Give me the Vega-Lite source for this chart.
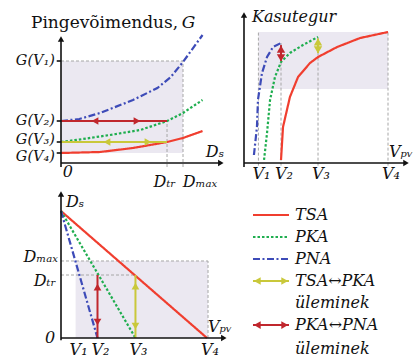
{
"$schema":"https://vega.github.io/schema/vega-lite/v6.json",
"padding":0,
"spacing":0,
"config":{"view":{"stroke":null},"text":{"font":"DejaVu Serif","fontSize":16,"fontStyle":"italic","color":"#111111"}},
"vconcat":[
{"hconcat":[
{"width":232,"height":186,
"encoding":{
"x":{"field":"x","type":"quantitative","scale":{"domain":[-0.5,1.4016],"nice":false,"zero":false},"axis":null},
"y":{"field":"y","type":"quantitative","scale":{"domain":[-2.3,16.3],"nice":false,"zero":false},"axis":null}},
"layer":[
{"data":{"values":[{"s":"area","x":0,"x2":1,"y":1.0,"y2":10.2}]},"mark":{"type":"rect"},
"encoding":{"x2":{"field":"x2"},"y2":{"field":"y2"},"color":{"field":"s","type":"nominal","legend":null,"scale":{"domain":["TSA","PKA","PNA","TSA↔PKA","PKA↔PNA","axis","grid","area"],"range":["#f03e2f","#1fae4f","#3d4bb8","#c9c83a","#c0272d","#111111","#a6a6a6","#ebe8f1"]}}}},
{"data":{"values":[{"s":"grid","x":0,"x2":1,"y":10.2,"y2":10.2},{"s":"grid","x":1,"x2":1,"y":-0.4,"y2":10.2},{"s":"grid","x":0.869,"x2":0.869,"y":-0.4,"y2":4.2}]},
"mark":{"type":"rule","strokeDash":[3,2],"strokeWidth":1},
"encoding":{"x2":{"field":"x2"},"y2":{"field":"y2"},"color":{"field":"s","type":"nominal","legend":null,"scale":{"domain":["TSA","PKA","PNA","TSA↔PKA","PKA↔PNA","axis","grid","area"],"range":["#f03e2f","#1fae4f","#3d4bb8","#c9c83a","#c0272d","#111111","#a6a6a6","#ebe8f1"]}}}},
{"data":{"values":[
{"s":"PNA","x":0,"y":4.2},{"s":"PNA","x":0.15,"y":4.4},{"s":"PNA","x":0.32,"y":5.0},{"s":"PNA","x":0.59,"y":6.3},{"s":"PNA","x":0.79,"y":7.5},{"s":"PNA","x":0.9,"y":8.6},{"s":"PNA","x":1.0,"y":10.1},{"s":"PNA","x":1.16,"y":12.8},
{"s":"PKA","x":0,"y":2.1},{"s":"PKA","x":0.18,"y":2.4},{"s":"PKA","x":0.4,"y":2.8},{"s":"PKA","x":0.65,"y":3.3},{"s":"PKA","x":0.87,"y":4.2},{"s":"PKA","x":1.0,"y":5.0},{"s":"PKA","x":1.16,"y":6.3},
{"s":"TSA","x":0,"y":1.0},{"s":"TSA","x":0.32,"y":1.1},{"s":"TSA","x":0.59,"y":1.5},{"s":"TSA","x":0.87,"y":2.1},{"s":"TSA","x":1.0,"y":2.5},{"s":"TSA","x":1.16,"y":3.2}]},
"mark":{"type":"line","strokeWidth":2.2},
"encoding":{"color":{"field":"s","type":"nominal","legend":null,"scale":{"domain":["TSA","PKA","PNA","TSA↔PKA","PKA↔PNA","axis","grid","area"],"range":["#f03e2f","#1fae4f","#3d4bb8","#c9c83a","#c0272d","#111111","#a6a6a6","#ebe8f1"]}},
"strokeDash":{"field":"s","type":"nominal","legend":null,"scale":{"domain":["TSA","PKA","PNA"],"range":[[1,0],[2.5,2],[7,2.5,2,2.5]]}}}},
{"data":{"values":[{"s":"PKA↔PNA","x":0,"x2":0.869,"y":4.2,"y2":4.2},{"s":"TSA↔PKA","x":0,"x2":0.869,"y":2.1,"y2":2.1}]},
"mark":{"type":"rule","strokeWidth":2},
"encoding":{"x2":{"field":"x2"},"y2":{"field":"y2"},"color":{"field":"s","type":"nominal","legend":null,"scale":{"domain":["TSA","PKA","PNA","TSA↔PKA","PKA↔PNA","axis","grid","area"],"range":["#f03e2f","#1fae4f","#3d4bb8","#c9c83a","#c0272d","#111111","#a6a6a6","#ebe8f1"]}}}},
{"data":{"values":[{"s":"axis","x":0,"x2":0,"y":-0.4,"y2":12.3},{"s":"axis","x":0,"x2":1.3,"y":0,"y2":0},{"s":"axis","x":-0.035,"x2":0,"y":10.2,"y2":10.2},{"s":"axis","x":-0.035,"x2":0,"y":4.2,"y2":4.2},{"s":"axis","x":-0.035,"x2":0,"y":2.1,"y2":2.1},{"s":"axis","x":-0.035,"x2":0,"y":1.0,"y2":1.0}]},
"mark":{"type":"rule","strokeWidth":1.6},
"encoding":{"x2":{"field":"x2"},"y2":{"field":"y2"},"color":{"field":"s","type":"nominal","legend":null,"scale":{"domain":["TSA","PKA","PNA","TSA↔PKA","PKA↔PNA","axis","grid","area"],"range":["#f03e2f","#1fae4f","#3d4bb8","#c9c83a","#c0272d","#111111","#a6a6a6","#ebe8f1"]}}}},
{"data":{"values":[{"s":"axis","dir":"up","x":0,"y":12.4},{"s":"axis","dir":"right","x":1.31,"y":0}]},
"mark":{"type":"point","filled":true,"opacity":1,"size":40},
"encoding":{"shape":{"field":"dir","type":"nominal","legend":null,"scale":{"domain":["up","down","left","right"],"range":["triangle-up","triangle-down","triangle-left","triangle-right"]}},"color":{"field":"s","type":"nominal","legend":null,"scale":{"domain":["TSA","PKA","PNA","TSA↔PKA","PKA↔PNA","axis","grid","area"],"range":["#f03e2f","#1fae4f","#3d4bb8","#c9c83a","#c0272d","#111111","#a6a6a6","#ebe8f1"]}}}},
{"data":{"values":[{"s":"PKA↔PNA","dir":"left","x":0.279,"y":4.2},{"s":"PKA↔PNA","dir":"right","x":0.623,"y":4.2},{"s":"TSA↔PKA","dir":"left","x":0.377,"y":2.1},{"s":"TSA↔PKA","dir":"right","x":0.713,"y":2.1}]},
"mark":{"type":"point","filled":true,"opacity":1,"size":60},
"encoding":{"shape":{"field":"dir","type":"nominal","legend":null,"scale":{"domain":["up","down","left","right"],"range":["triangle-up","triangle-down","triangle-left","triangle-right"]}},"color":{"field":"s","type":"nominal","legend":null,"scale":{"domain":["TSA","PKA","PNA","TSA↔PKA","PKA↔PNA","axis","grid","area"],"range":["#f03e2f","#1fae4f","#3d4bb8","#c9c83a","#c0272d","#111111","#a6a6a6","#ebe8f1"]}}}},
{"data":{"values":[{"t":"G(V₁)","x":-0.049,"y":10.2},{"t":"G(V₂)","x":-0.049,"y":4.2},{"t":"G(V₃)","x":-0.049,"y":2.3},{"t":"G(V₄)","x":-0.049,"y":0.6}]},
"mark":{"type":"text","align":"right","baseline":"middle","fontSize":14.5},"encoding":{"text":{"field":"t"}}},
{"data":{"values":[{"t":"0","x":0.057,"y":-0.9},{"t":"Dₜᵣ","x":0.85,"y":-1.9},{"t":"Dₘₐₓ","x":1.139,"y":-1.9},{"t":"Dₛ","x":1.262,"y":1.1}]},
"mark":{"type":"text","align":"center","baseline":"middle"},"encoding":{"text":{"field":"t"}}},
{"data":{"values":[{"t":"Pingevõimendus,","x":0.96,"y":13.5}]},
"mark":{"type":"text","align":"right","baseline":"alphabetic","fontStyle":"normal","fontSize":17},"encoding":{"text":{"field":"t"}}},
{"data":{"values":[{"t":"G","x":0.99,"y":13.5}]},
"mark":{"type":"text","align":"left","baseline":"alphabetic","fontSize":17},"encoding":{"text":{"field":"t"}}}
]},
{"width":184,"height":186,
"encoding":{
"x":{"field":"x","type":"quantitative","scale":{"domain":[-0.0833,1.1944],"nice":false,"zero":false},"axis":null},
"y":{"field":"y","type":"quantitative","scale":{"domain":[-17.56,124.43],"nice":false,"zero":false},"axis":null}},
"layer":[
{"data":{"values":[{"s":"area","x":0.1,"x2":1,"y":56.5,"y2":100}]},"mark":{"type":"rect"},
"encoding":{"x2":{"field":"x2"},"y2":{"field":"y2"},"color":{"field":"s","type":"nominal","legend":null,"scale":{"domain":["TSA","PKA","PNA","TSA↔PKA","PKA↔PNA","axis","grid","area"],"range":["#f03e2f","#1fae4f","#3d4bb8","#c9c83a","#c0272d","#111111","#a6a6a6","#ebe8f1"]}}}},
{"data":{"values":[{"s":"grid","x":0.1,"x2":0.1,"y":-2,"y2":100},{"s":"grid","x":0.257,"x2":0.257,"y":-2,"y2":91.6},{"s":"grid","x":0.514,"x2":0.514,"y":-2,"y2":96.2},{"s":"grid","x":1.0,"x2":1.0,"y":-2,"y2":100}]},
"mark":{"type":"rule","strokeDash":[3,2],"strokeWidth":1},
"encoding":{"x2":{"field":"x2"},"y2":{"field":"y2"},"color":{"field":"s","type":"nominal","legend":null,"scale":{"domain":["TSA","PKA","PNA","TSA↔PKA","PKA↔PNA","axis","grid","area"],"range":["#f03e2f","#1fae4f","#3d4bb8","#c9c83a","#c0272d","#111111","#a6a6a6","#ebe8f1"]}}}},
{"data":{"values":[
{"s":"PNA","x":0.069,"y":6.1},{"s":"PNA","x":0.09,"y":27.5},{"s":"PNA","x":0.097,"y":48.1},{"s":"PNA","x":0.125,"y":68.7},{"s":"PNA","x":0.16,"y":80.9},{"s":"PNA","x":0.201,"y":88.5},{"s":"PNA","x":0.257,"y":91.6},
{"s":"PKA","x":0.139,"y":2.3},{"s":"PKA","x":0.16,"y":22.9},{"s":"PKA","x":0.181,"y":48.1},{"s":"PKA","x":0.215,"y":65.6},{"s":"PKA","x":0.257,"y":77.1},{"s":"PKA","x":0.319,"y":84.0},{"s":"PKA","x":0.41,"y":90.1},{"s":"PKA","x":0.514,"y":96.2},
{"s":"TSA","x":0.257,"y":2.3},{"s":"TSA","x":0.271,"y":27.5},{"s":"TSA","x":0.319,"y":50.4},{"s":"TSA","x":0.375,"y":65.6},{"s":"TSA","x":0.458,"y":76.3},{"s":"TSA","x":0.514,"y":80.9},{"s":"TSA","x":0.646,"y":88.5},{"s":"TSA","x":0.806,"y":95.4},{"s":"TSA","x":1.0,"y":100}]},
"mark":{"type":"line","strokeWidth":2.2},
"encoding":{"color":{"field":"s","type":"nominal","legend":null,"scale":{"domain":["TSA","PKA","PNA","TSA↔PKA","PKA↔PNA","axis","grid","area"],"range":["#f03e2f","#1fae4f","#3d4bb8","#c9c83a","#c0272d","#111111","#a6a6a6","#ebe8f1"]}},
"strokeDash":{"field":"s","type":"nominal","legend":null,"scale":{"domain":["TSA","PKA","PNA"],"range":[[1,0],[2.5,2],[7,2.5,2,2.5]]}}}},
{"data":{"values":[{"s":"PKA↔PNA","x":0.257,"x2":0.257,"y":78,"y2":90},{"s":"TSA↔PKA","x":0.514,"x2":0.514,"y":84,"y2":95}]},
"mark":{"type":"rule","strokeWidth":2},
"encoding":{"x2":{"field":"x2"},"y2":{"field":"y2"},"color":{"field":"s","type":"nominal","legend":null,"scale":{"domain":["TSA","PKA","PNA","TSA↔PKA","PKA↔PNA","axis","grid","area"],"range":["#f03e2f","#1fae4f","#3d4bb8","#c9c83a","#c0272d","#111111","#a6a6a6","#ebe8f1"]}}}},
{"data":{"values":[{"s":"PKA↔PNA","dir":"up","x":0.257,"y":87},{"s":"PKA↔PNA","dir":"down","x":0.257,"y":80.2},{"s":"TSA↔PKA","dir":"up","x":0.514,"y":92.4},{"s":"TSA↔PKA","dir":"down","x":0.514,"y":86.3}]},
"mark":{"type":"point","filled":true,"opacity":1,"size":70},
"encoding":{"shape":{"field":"dir","type":"nominal","legend":null,"scale":{"domain":["up","down","left","right"],"range":["triangle-up","triangle-down","triangle-left","triangle-right"]}},"color":{"field":"s","type":"nominal","legend":null,"scale":{"domain":["TSA","PKA","PNA","TSA↔PKA","PKA↔PNA","axis","grid","area"],"range":["#f03e2f","#1fae4f","#3d4bb8","#c9c83a","#c0272d","#111111","#a6a6a6","#ebe8f1"]}}}},
{"data":{"values":[{"s":"axis","x":0,"x2":0,"y":-3,"y2":112},{"s":"axis","x":0,"x2":1.12,"y":0,"y2":0}]},
"mark":{"type":"rule","strokeWidth":1.6},
"encoding":{"x2":{"field":"x2"},"y2":{"field":"y2"},"color":{"field":"s","type":"nominal","legend":null,"scale":{"domain":["TSA","PKA","PNA","TSA↔PKA","PKA↔PNA","axis","grid","area"],"range":["#f03e2f","#1fae4f","#3d4bb8","#c9c83a","#c0272d","#111111","#a6a6a6","#ebe8f1"]}}}},
{"data":{"values":[{"s":"axis","dir":"up","x":0,"y":113},{"s":"axis","dir":"right","x":1.125,"y":0}]},
"mark":{"type":"point","filled":true,"opacity":1,"size":40},
"encoding":{"shape":{"field":"dir","type":"nominal","legend":null,"scale":{"domain":["up","down","left","right"],"range":["triangle-up","triangle-down","triangle-left","triangle-right"]}},"color":{"field":"s","type":"nominal","legend":null,"scale":{"domain":["TSA","PKA","PNA","TSA↔PKA","PKA↔PNA","axis","grid","area"],"range":["#f03e2f","#1fae4f","#3d4bb8","#c9c83a","#c0272d","#111111","#a6a6a6","#ebe8f1"]}}}},
{"data":{"values":[{"t":"Kasutegur","x":0.056,"y":111.5},{"t":"Vₚᵥ","x":1.007,"y":8.4}]},
"mark":{"type":"text","align":"left","baseline":"middle"},"encoding":{"text":{"field":"t"}}},
{"data":{"values":[{"t":"V₁","x":0.1,"y":-8.4},{"t":"V₂","x":0.257,"y":-8.4},{"t":"V₃","x":0.514,"y":-8.4},{"t":"V₄","x":1.0,"y":-8.4}]},
"mark":{"type":"text","align":"center","baseline":"middle","dx":3},"encoding":{"text":{"field":"t"}}}
]}
],"spacing":0,"bounds":"flush"},
{"hconcat":[
{"width":232,"height":171,
"encoding":{
"x":{"field":"x","type":"quantitative","scale":{"domain":[-0.4178,1.1712],"nice":false,"zero":false},"axis":null},
"y":{"field":"y","type":"quantitative","scale":{"domain":[-0.2987,1.922],"nice":false,"zero":false},"axis":null}},
"layer":[
{"data":{"values":[{"s":"area","x":0.1,"x2":1.007,"y":0,"y2":1}]},"mark":{"type":"rect"},
"encoding":{"x2":{"field":"x2"},"y2":{"field":"y2"},"color":{"field":"s","type":"nominal","legend":null,"scale":{"domain":["TSA","PKA","PNA","TSA↔PKA","PKA↔PNA","axis","grid","area"],"range":["#f03e2f","#1fae4f","#3d4bb8","#c9c83a","#c0272d","#111111","#a6a6a6","#ebe8f1"]}}}},
{"data":{"values":[{"s":"grid","x":0,"x2":1.007,"y":1,"y2":1},{"s":"grid","x":1.007,"x2":1.007,"y":0,"y2":1},{"s":"grid","x":0,"x2":0.51,"y":0.818,"y2":0.818}]},
"mark":{"type":"rule","strokeDash":[3,2],"strokeWidth":1},
"encoding":{"x2":{"field":"x2"},"y2":{"field":"y2"},"color":{"field":"s","type":"nominal","legend":null,"scale":{"domain":["TSA","PKA","PNA","TSA↔PKA","PKA↔PNA","axis","grid","area"],"range":["#f03e2f","#1fae4f","#3d4bb8","#c9c83a","#c0272d","#111111","#a6a6a6","#ebe8f1"]}}}},
{"data":{"values":[{"s":"TSA","x":0,"y":1.649},{"s":"TSA","x":1.0,"y":0},{"s":"PKA","x":0,"y":1.649},{"s":"PKA","x":0.51,"y":0},{"s":"PNA","x":0,"y":1.649},{"s":"PNA","x":0.25,"y":0}]},
"mark":{"type":"line","strokeWidth":2.2},
"encoding":{"color":{"field":"s","type":"nominal","legend":null,"scale":{"domain":["TSA","PKA","PNA","TSA↔PKA","PKA↔PNA","axis","grid","area"],"range":["#f03e2f","#1fae4f","#3d4bb8","#c9c83a","#c0272d","#111111","#a6a6a6","#ebe8f1"]}},
"strokeDash":{"field":"s","type":"nominal","legend":null,"scale":{"domain":["TSA","PKA","PNA"],"range":[[1,0],[2.5,2],[7,2.5,2,2.5]]}}}},
{"data":{"values":[{"s":"PKA↔PNA","x":0.25,"x2":0.25,"y":0,"y2":0.818},{"s":"TSA↔PKA","x":0.51,"x2":0.51,"y":0,"y2":0.818}]},
"mark":{"type":"rule","strokeWidth":2},
"encoding":{"x2":{"field":"x2"},"y2":{"field":"y2"},"color":{"field":"s","type":"nominal","legend":null,"scale":{"domain":["TSA","PKA","PNA","TSA↔PKA","PKA↔PNA","axis","grid","area"],"range":["#f03e2f","#1fae4f","#3d4bb8","#c9c83a","#c0272d","#111111","#a6a6a6","#ebe8f1"]}}}},
{"data":{"values":[{"s":"PKA↔PNA","dir":"up","x":0.25,"y":0.662},{"s":"PKA↔PNA","dir":"down","x":0.25,"y":0.208},{"s":"TSA↔PKA","dir":"up","x":0.51,"y":0.675},{"s":"TSA↔PKA","dir":"down","x":0.51,"y":0.156}]},
"mark":{"type":"point","filled":true,"opacity":1,"size":60},
"encoding":{"shape":{"field":"dir","type":"nominal","legend":null,"scale":{"domain":["up","down","left","right"],"range":["triangle-up","triangle-down","triangle-left","triangle-right"]}},"color":{"field":"s","type":"nominal","legend":null,"scale":{"domain":["TSA","PKA","PNA","TSA↔PKA","PKA↔PNA","axis","grid","area"],"range":["#f03e2f","#1fae4f","#3d4bb8","#c9c83a","#c0272d","#111111","#a6a6a6","#ebe8f1"]}}}},
{"data":{"values":[{"s":"axis","x":0,"x2":0,"y":-0.03,"y2":1.86},{"s":"axis","x":0,"x2":1.11,"y":0,"y2":0}]},
"mark":{"type":"rule","strokeWidth":1.6},
"encoding":{"x2":{"field":"x2"},"y2":{"field":"y2"},"color":{"field":"s","type":"nominal","legend":null,"scale":{"domain":["TSA","PKA","PNA","TSA↔PKA","PKA↔PNA","axis","grid","area"],"range":["#f03e2f","#1fae4f","#3d4bb8","#c9c83a","#c0272d","#111111","#a6a6a6","#ebe8f1"]}}}},
{"data":{"values":[{"s":"axis","dir":"up","x":0,"y":1.87},{"s":"axis","dir":"right","x":1.115,"y":0}]},
"mark":{"type":"point","filled":true,"opacity":1,"size":40},
"encoding":{"shape":{"field":"dir","type":"nominal","legend":null,"scale":{"domain":["up","down","left","right"],"range":["triangle-up","triangle-down","triangle-left","triangle-right"]}},"color":{"field":"s","type":"nominal","legend":null,"scale":{"domain":["TSA","PKA","PNA","TSA↔PKA","PKA↔PNA","axis","grid","area"],"range":["#f03e2f","#1fae4f","#3d4bb8","#c9c83a","#c0272d","#111111","#a6a6a6","#ebe8f1"]}}}},
{"data":{"values":[{"t":"Dₛ","x":0.034,"y":1.766},{"t":"Vₚᵥ","x":1.007,"y":0.143}]},
"mark":{"type":"text","align":"left","baseline":"middle"},"encoding":{"text":{"field":"t"}}},
{"data":{"values":[{"t":"Dₘₐₓ","x":-0.021,"y":1.052},{"t":"Dₜᵣ","x":-0.034,"y":0.74},{"t":"0","x":-0.04,"y":0}]},
"mark":{"type":"text","align":"right","baseline":"middle"},"encoding":{"text":{"field":"t"}}},
{"data":{"values":[{"t":"V₁","x":0.1,"y":-0.15},{"t":"V₂","x":0.25,"y":-0.15},{"t":"V₃","x":0.51,"y":-0.15},{"t":"V₄","x":1.0,"y":-0.15}]},
"mark":{"type":"text","align":"center","baseline":"middle","dx":3},"encoding":{"text":{"field":"t"}}}
]},
{"width":184,"height":171,
"encoding":{
"x":{"field":"x","type":"quantitative","scale":{"domain":[-0.583,4.528],"nice":false,"zero":false},"axis":null},
"y":{"field":"y","type":"quantitative","scale":{"domain":[-1.136,6.636],"nice":false,"zero":false,"reverse":true},"axis":null}},
"layer":[
{"data":{"values":[{"s":"TSA","x":0,"y":0},{"s":"TSA","x":1,"y":0},{"s":"PKA","x":0,"y":1},{"s":"PKA","x":1,"y":1},{"s":"PNA","x":0,"y":2},{"s":"PNA","x":1,"y":2}]},
"mark":{"type":"line","strokeWidth":2.2},
"encoding":{"color":{"field":"s","type":"nominal","legend":null,"scale":{"domain":["TSA","PKA","PNA","TSA↔PKA","PKA↔PNA","axis","grid","area"],"range":["#f03e2f","#1fae4f","#3d4bb8","#c9c83a","#c0272d","#111111","#a6a6a6","#ebe8f1"]}},
"strokeDash":{"field":"s","type":"nominal","legend":null,"scale":{"domain":["TSA","PKA","PNA"],"range":[[1,0],[2.5,2],[7,2.5,2,2.5]]}}}},
{"data":{"values":[{"s":"TSA↔PKA","x":0,"x2":1,"y":3,"y2":3},{"s":"PKA↔PNA","x":0,"x2":1,"y":5,"y2":5}]},
"mark":{"type":"rule","strokeWidth":2},
"encoding":{"x2":{"field":"x2"},"y2":{"field":"y2"},"color":{"field":"s","type":"nominal","legend":null,"scale":{"domain":["TSA","PKA","PNA","TSA↔PKA","PKA↔PNA","axis","grid","area"],"range":["#f03e2f","#1fae4f","#3d4bb8","#c9c83a","#c0272d","#111111","#a6a6a6","#ebe8f1"]}}}},
{"data":{"values":[{"s":"TSA↔PKA","dir":"left","x":0.12,"y":3},{"s":"TSA↔PKA","dir":"right","x":0.88,"y":3},{"s":"PKA↔PNA","dir":"left","x":0.12,"y":5},{"s":"PKA↔PNA","dir":"right","x":0.88,"y":5}]},
"mark":{"type":"point","filled":true,"opacity":1,"size":60},
"encoding":{"shape":{"field":"dir","type":"nominal","legend":null,"scale":{"domain":["up","down","left","right"],"range":["triangle-up","triangle-down","triangle-left","triangle-right"]}},"color":{"field":"s","type":"nominal","legend":null,"scale":{"domain":["TSA","PKA","PNA","TSA↔PKA","PKA↔PNA","axis","grid","area"],"range":["#f03e2f","#1fae4f","#3d4bb8","#c9c83a","#c0272d","#111111","#a6a6a6","#ebe8f1"]}}}},
{"data":{"values":[{"t":"TSA","x":1.167,"y":0},{"t":"PKA","x":1.167,"y":1},{"t":"PNA","x":1.167,"y":2},{"t":"TSA↔PKA","x":1.167,"y":3},{"t":"üleminek","x":1.167,"y":4},{"t":"PKA↔PNA","x":1.167,"y":5},{"t":"üleminek","x":1.167,"y":6.1}]},
"mark":{"type":"text","align":"left","baseline":"middle"},"encoding":{"text":{"field":"t"}}}
]}
],"spacing":0,"bounds":"flush"}
]
}
